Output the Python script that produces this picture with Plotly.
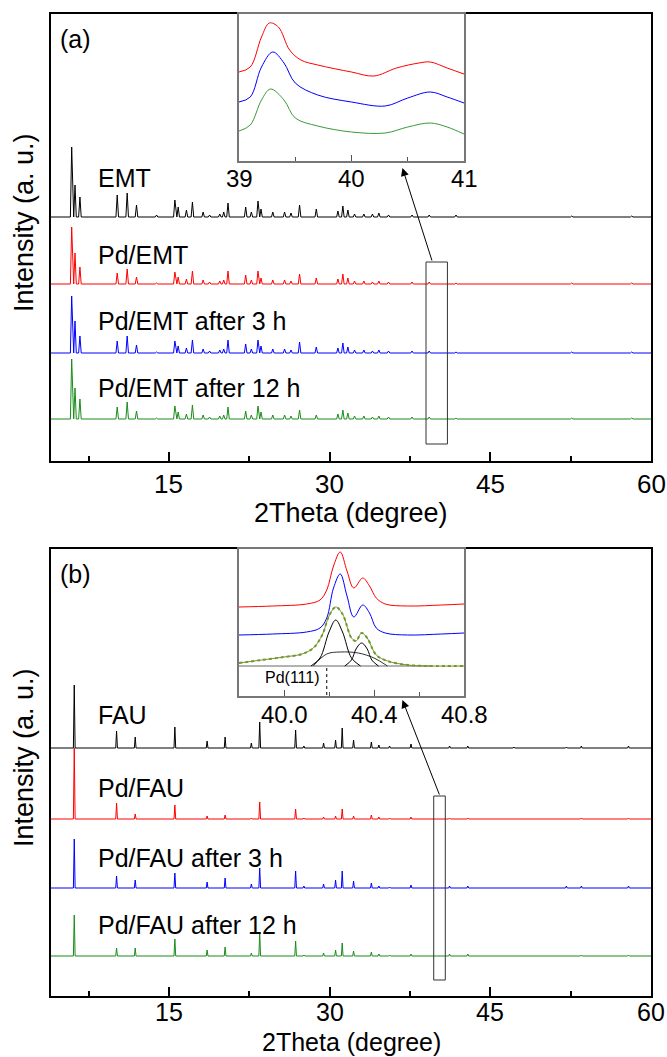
import plotly.graph_objects as go

# ---------------- data ----------------
# Panel (a): EMT patterns, peak positions (2theta) and heights (a.u.)
EMT_POS = [5.93, 6.24, 6.70, 10.18, 11.11, 11.98, 13.85, 15.56, 15.87, 16.64,
           17.20, 18.20, 18.80, 19.75, 20.12, 20.52, 22.17, 22.70, 23.32, 23.60,
           24.70, 25.80, 26.40, 27.20, 28.76, 30.78, 31.24, 31.71, 32.33, 33.20,
           34.00, 34.60, 35.50, 37.70, 39.30, 41.80, 52.60, 58.20]
EMT_H = [70, 32, 20, 22, 24, 12, 2, 17, 10, 7, 15, 5, 2, 3, 5, 14, 10, 5, 16, 8,
         5, 5, 4, 12, 8, 6, 11, 7, 3, 3, 3, 4, 2, 2, 2, 2, 1, 1]
PD_EMT_H = [57, 31, 17, 11, 15, 7, 1, 12, 7, 5, 13, 4, 2, 3, 4, 13, 9, 4, 13, 6,
            4, 4, 3, 10, 6, 5, 10, 6, 3, 3, 2, 3, 2, 2, 2, 1, 1, 1]
PD_EMT_3H_H = [57, 32, 17, 12, 17, 8, 1, 12, 7, 5, 13, 4, 2, 3, 4, 13, 9, 4, 13, 7,
               4, 4, 3, 11, 6, 5, 10, 6, 3, 3, 2, 3, 2, 2, 2, 1, 1, 1]
PD_EMT_12H_H = [60, 31, 20, 12, 17, 8, 1, 13, 7, 5, 14, 4, 2, 3, 4, 12, 8, 4, 13, 7,
                4, 4, 3, 9, 4, 5, 9, 6, 3, 3, 2, 3, 2, 2, 2, 1, 1, 1]
EMT_OFFSETS = [244, 177, 108, 42]
EMT_NAMES = ["EMT", "Pd/EMT", "Pd/EMT after 3 h", "Pd/EMT after 12 h"]
EMT_LABEL_Y = [283, 206, 140, 73]

# Panel (b): FAU patterns
FAU_POS = [6.17, 10.12, 11.86, 15.56, 18.57, 20.25, 22.70, 23.48, 26.83, 27.60,
           29.44, 30.56, 31.18, 32.24, 33.90, 34.60, 35.60, 37.60, 41.20, 42.90,
           47.20, 52.10, 53.50, 57.90]
FAU_H = [63, 17, 11, 21, 7, 11, 5, 26, 18, 2, 5, 8, 20, 8, 6, 3, 2, 4, 2, 2, 1, 1, 2, 2]
PD_FAU_H = [71, 16, 5, 14, 3, 4, 1, 17, 10, 1, 2, 3, 10, 3, 4, 2, 1, 2, 1, 1, 0, 0, 1, 1]
PD_FAU_3H_H = [49, 12, 8, 15, 6, 10, 4, 20, 17, 2, 4, 8, 17, 7, 5, 2, 1, 3, 2, 2, 0, 2, 2, 2]
PD_FAU_12H_H = [41, 8, 8, 17, 6, 9, 3, 23, 15, 1, 3, 6, 13, 5, 4, 2, 1, 2, 2, 2, 0, 0, 1, 1]
FAU_OFFSETS = [248, 177, 108, 40]
FAU_NAMES = ["FAU", "Pd/FAU", "Pd/FAU after 3 h", "Pd/FAU after 12 h"]
FAU_LABEL_Y = [281, 208, 138, 71]

COLORS = ["#000000", "#ff0000", "#0000ff", "#1a8c1a"]

# Inset (a): 39-41 degree region
INA_X = [39.0, 39.1, 39.2, 39.27, 39.35, 39.45, 39.55, 39.7, 40.0, 40.2, 40.4, 40.6, 40.7, 40.85, 41.0]
INA_RED = [89, 94, 124, 138, 134, 111, 101, 96, 89, 85, 93, 98, 99, 93, 87]
INA_X2 = [39.0, 39.1, 39.2, 39.3, 39.4, 39.5, 39.7, 40.0, 40.3, 40.5, 40.7, 40.85, 41.0]
INA_BLUE = [59, 64, 94, 109, 98, 78, 66, 59, 55, 63, 69, 64, 58]
INA_X3 = [39.0, 39.1, 39.2, 39.28, 39.4, 39.5, 39.7, 40.0, 40.3, 40.5, 40.7, 40.85, 41.0]
INA_GREEN = [30, 36, 61, 72, 61, 43, 35, 29, 28, 34, 38, 34, 27]

# Inset (b): Pd(111) region
INB_X = [39.80, 39.95, 40.10, 40.16, 40.19, 40.22, 40.25, 40.28, 40.31, 40.35,
         40.38, 40.41, 40.45, 40.55, 40.70, 40.80]
INB_RED = [89, 90, 92, 96, 106, 130, 144, 125, 108, 118, 110, 98, 92, 90, 91, 92]
INB_BLUE = [61, 62, 64, 68, 78, 108, 122, 100, 79, 91, 83, 68, 63, 61, 62, 63]
INB_GX = [39.80, 39.90, 40.00, 40.08, 40.13, 40.17, 40.20, 40.23, 40.26, 40.30,
          40.32, 40.345, 40.37, 40.41, 40.46, 40.55, 40.65, 40.80]
INB_GREEN = [33, 36, 39, 42, 48, 61, 80, 89, 82, 58, 55, 63, 58, 41, 35, 31, 30, 30]
FIT_BASE_X = [39.80, 40.66]
FIT_BASE_Y = [30, 30]
FIT_BROAD_X = [40.13, 40.19, 40.25, 40.33, 40.40, 40.46]
FIT_BROAD_Y = [30, 42, 44, 43, 38, 30]
FIT_P1_X = [40.12, 40.16, 40.20, 40.23, 40.26, 40.30, 40.34]
FIT_P1_Y = [30, 38, 64, 76, 64, 38, 30]
FIT_P2_X = [40.27, 40.30, 40.32, 40.345, 40.37, 40.39, 40.42]
FIT_P2_Y = [30, 36, 47, 53, 47, 36, 30]
PD111_POS = 40.19

MAIN_TICKS = [15, 30, 45, 60]
MAIN_MINOR = [7.5, 22.5, 37.5, 52.5]
INA_TICKS = [39, 40, 41]
INA_MINOR = [39.5, 40.5]
INB_TICKS = [40.0, 40.4, 40.8]
INB_MINOR = [40.2, 40.6]

FONT = "Liberation Sans, Arial, sans-serif"
W, H = 667, 1057


def pattern(pos, hts, w, offset):
    xs, ys = [4.0], [offset]
    for p, h in zip(pos, hts):
        if h <= 0:
            continue
        xs += [p - w, p, p + w]
        ys += [offset, offset + h, offset]
    xs.append(60.0)
    ys.append(offset)
    return xs, ys


def px_x(p):
    return p / W


def px_y(p):
    return 1 - p / H


fig = go.Figure()

# main traces panel (a)
for hts, off, col in zip([EMT_H, PD_EMT_H, PD_EMT_3H_H, PD_EMT_12H_H], EMT_OFFSETS, COLORS):
    xs, ys = pattern(EMT_POS, hts, 0.12, off)
    fig.add_trace(go.Scatter(x=xs, y=ys, mode="lines", line=dict(color=col, width=1),
                             xaxis="x", yaxis="y", showlegend=False, hoverinfo="skip"))
# main traces panel (b)
for hts, off, col in zip([FAU_H, PD_FAU_H, PD_FAU_3H_H, PD_FAU_12H_H], FAU_OFFSETS, COLORS):
    xs, ys = pattern(FAU_POS, hts, 0.08, off)
    fig.add_trace(go.Scatter(x=xs, y=ys, mode="lines", line=dict(color=col, width=1),
                             xaxis="x2", yaxis="y2", showlegend=False, hoverinfo="skip"))

# inset (a)
for xs, ys, col in [(INA_X, INA_RED, COLORS[1]), (INA_X2, INA_BLUE, COLORS[2]), (INA_X3, INA_GREEN, "#3a9a3a")]:
    fig.add_trace(go.Scatter(x=xs, y=ys, mode="lines", line=dict(color=col, width=1, shape="spline"),
                             xaxis="x3", yaxis="y3", showlegend=False, hoverinfo="skip"))

# inset (b)
fig.add_trace(go.Scatter(x=INB_X, y=INB_RED, mode="lines", line=dict(color=COLORS[1], width=1, shape="spline"),
                         xaxis="x4", yaxis="y4", showlegend=False, hoverinfo="skip"))
fig.add_trace(go.Scatter(x=INB_X, y=INB_BLUE, mode="lines", line=dict(color=COLORS[2], width=1, shape="spline"),
                         xaxis="x4", yaxis="y4", showlegend=False, hoverinfo="skip"))
for xs, ys, col in [(FIT_BASE_X, FIT_BASE_Y, "#666666"), (FIT_BROAD_X, FIT_BROAD_Y, "#333333"),
                    (FIT_P1_X, FIT_P1_Y, "#000000"), (FIT_P2_X, FIT_P2_Y, "#000000")]:
    fig.add_trace(go.Scatter(x=xs, y=ys, mode="lines", line=dict(color=col, width=1, shape="spline"),
                             xaxis="x4", yaxis="y4", showlegend=False, hoverinfo="skip"))
fig.add_trace(go.Scatter(x=INB_GX, y=INB_GREEN, mode="lines", line=dict(color="#4faa3c", width=2, dash="dot", shape="spline"),
                         xaxis="x4", yaxis="y4", showlegend=False, hoverinfo="skip"))
fig.add_trace(go.Scatter(x=INB_GX, y=INB_GREEN, mode="lines", line=dict(color="#8c8c28", width=1, shape="spline"),
                         xaxis="x4", yaxis="y4", showlegend=False, hoverinfo="skip"))
fig.add_trace(go.Scatter(x=[PD111_POS, PD111_POS], y=[28, 0], mode="lines",
                         line=dict(color="#000000", width=1, dash="dot"),
                         xaxis="x4", yaxis="y4", showlegend=False, hoverinfo="skip"))

# ---------------- layout ----------------
main_x = dict(range=[4, 60], tickvals=MAIN_TICKS, ticks="inside", ticklen=9, tickwidth=1.5,
              tickcolor="black", showline=True, linecolor="black", linewidth=2, mirror=True,
              showgrid=False, zeroline=False, showticklabels=False,
              minor=dict(tickvals=MAIN_MINOR, ticks="inside", ticklen=5,
                         tickcolor="black", tickwidth=1.5),
              domain=[px_x(51), px_x(651)], fixedrange=True)
main_y = dict(range=[0, 447], showticklabels=False, ticks="", showline=True, linecolor="black",
              linewidth=2, mirror=True, showgrid=False, zeroline=False, fixedrange=True)

ins_x = dict(ticks="inside", ticklen=6, tickwidth=1, tickcolor="#555555", showline=True,
             linecolor="#777777", linewidth=1.5, mirror=True, showgrid=False, zeroline=False,
             showticklabels=False, domain=[px_x(239), px_x(464)], fixedrange=True)
ins_y = dict(range=[0, 147], showticklabels=False, ticks="", showline=True, linecolor="#777777",
             linewidth=1.5, mirror=True, showgrid=False, zeroline=False, fixedrange=True)

fig.update_layout(
    width=W, height=H, margin=dict(l=0, r=0, t=0, b=0),
    paper_bgcolor="white", plot_bgcolor="white", showlegend=False,
    xaxis=dict(**main_x, anchor="y"),
    yaxis=dict(**main_y, domain=[px_y(461), px_y(14)], anchor="x"),
    xaxis2=dict(**main_x, anchor="y2"),
    yaxis2=dict(**main_y, domain=[px_y(996), px_y(549)], anchor="x2"),
    xaxis3=dict(**ins_x, range=[39, 41], tickvals=INA_TICKS, anchor="y3",
                minor=dict(tickvals=INA_MINOR, ticks="inside", ticklen=4, tickcolor="#555555")),
    yaxis3=dict(**ins_y, domain=[px_y(161), px_y(14)], anchor="x3"),
    xaxis4=dict(**ins_x, range=[39.8, 40.8], tickvals=INB_TICKS, anchor="y4",
                minor=dict(tickvals=INB_MINOR, ticks="inside", ticklen=4, tickcolor="#555555")),
    yaxis4=dict(**ins_y, domain=[px_y(696), px_y(549)], anchor="x4"),
)

# rectangles marking the zoomed region
fig.add_shape(type="rect", xref="x", yref="y", x0=39, x1=41, y0=17, y1=199,
              line=dict(color="#333333", width=1))
fig.add_shape(type="rect", xref="x2", yref="y2", x0=39.72, x1=40.8, y0=16, y1=200,
              line=dict(color="#333333", width=1))

annotations = []
# arrows
annotations.append(dict(x=36.8, y=293, ax=39.6, ay=199, xref="x", yref="y", axref="x", ayref="y",
                        showarrow=True, arrowhead=2, arrowsize=1.6, arrowwidth=1, arrowcolor="black", text=""))
annotations.append(dict(x=36.8, y=296, ax=40.3, ay=200, xref="x2", yref="y2", axref="x2", ayref="y2",
                        showarrow=True, arrowhead=2, arrowsize=1.6, arrowwidth=1, arrowcolor="black", text=""))

# tick labels (placed as text at the tick values)
for xr, ypix, fs in [("x", 484, 26), ("x2", 1012, 25)]:
    for v in MAIN_TICKS:
        annotations.append(dict(x=v, y=px_y(ypix), xref=xr, yref="paper", text=str(v), showarrow=False,
                                xanchor="center", yanchor="middle", borderpad=0,
                                font=dict(family=FONT, size=fs, color="black")))
for v in INA_TICKS:
    annotations.append(dict(x=v, y=px_y(179), xref="x3", yref="paper", text=str(v), showarrow=False,
                            xanchor="center", yanchor="middle",
                            font=dict(family=FONT, size=24, color="black")))
for v in INB_TICKS:
    annotations.append(dict(x=v, y=px_y(714), xref="x4", yref="paper", text=f"{v:.1f}", showarrow=False,
                            xanchor="center", yanchor="middle",
                            font=dict(family=FONT, size=24, color="black")))

# sample labels
for name, yv in zip(EMT_NAMES, EMT_LABEL_Y):
    annotations.append(dict(x=8.2, y=yv, xref="x", yref="y", text=name, showarrow=False,
                            xanchor="left", yanchor="middle", font=dict(family=FONT, size=25, color="black")))
for name, yv in zip(FAU_NAMES, FAU_LABEL_Y):
    annotations.append(dict(x=8.2, y=yv, xref="x2", yref="y2", text=name, showarrow=False,
                            xanchor="left", yanchor="middle", font=dict(family=FONT, size=25, color="black")))

# panel letters
annotations.append(dict(x=px_x(58), y=px_y(39), xref="paper", yref="paper", text="(a)", showarrow=False,
                        xanchor="left", yanchor="middle", font=dict(family=FONT, size=25, color="black")))
annotations.append(dict(x=px_x(58), y=px_y(574), xref="paper", yref="paper", text="(b)", showarrow=False,
                        xanchor="left", yanchor="middle", font=dict(family=FONT, size=25, color="black")))

# axis titles
annotations.append(dict(x=px_x(351), y=px_y(513), xref="paper", yref="paper", text="2Theta (degree)",
                        showarrow=False, xanchor="center", yanchor="middle",
                        font=dict(family=FONT, size=27, color="black")))
annotations.append(dict(x=px_x(351), y=0, xref="paper", yref="paper", text="2Theta (degree)",
                        showarrow=False, xanchor="center", yanchor="bottom", borderpad=0,
                        font=dict(family=FONT, size=25, color="black")))
for yc in [223, 758]:
    annotations.append(dict(x=px_x(24), y=px_y(yc), xref="paper", yref="paper", text="Intensity (a. u.)",
                            showarrow=False, xanchor="center", yanchor="middle", textangle=-90,
                            font=dict(family=FONT, size=27, color="black")))

# Pd(111) label
annotations.append(dict(x=40.17, y=19, xref="x4", yref="y4", text="Pd(111)", showarrow=False,
                        xanchor="right", yanchor="middle", font=dict(family=FONT, size=16, color="black")))

fig.update_layout(annotations=annotations)

fig.write_html("out.html", config={"displayModeBar": False},
               post_script="document.body.style.margin='0';document.body.style.overflow='hidden';")
